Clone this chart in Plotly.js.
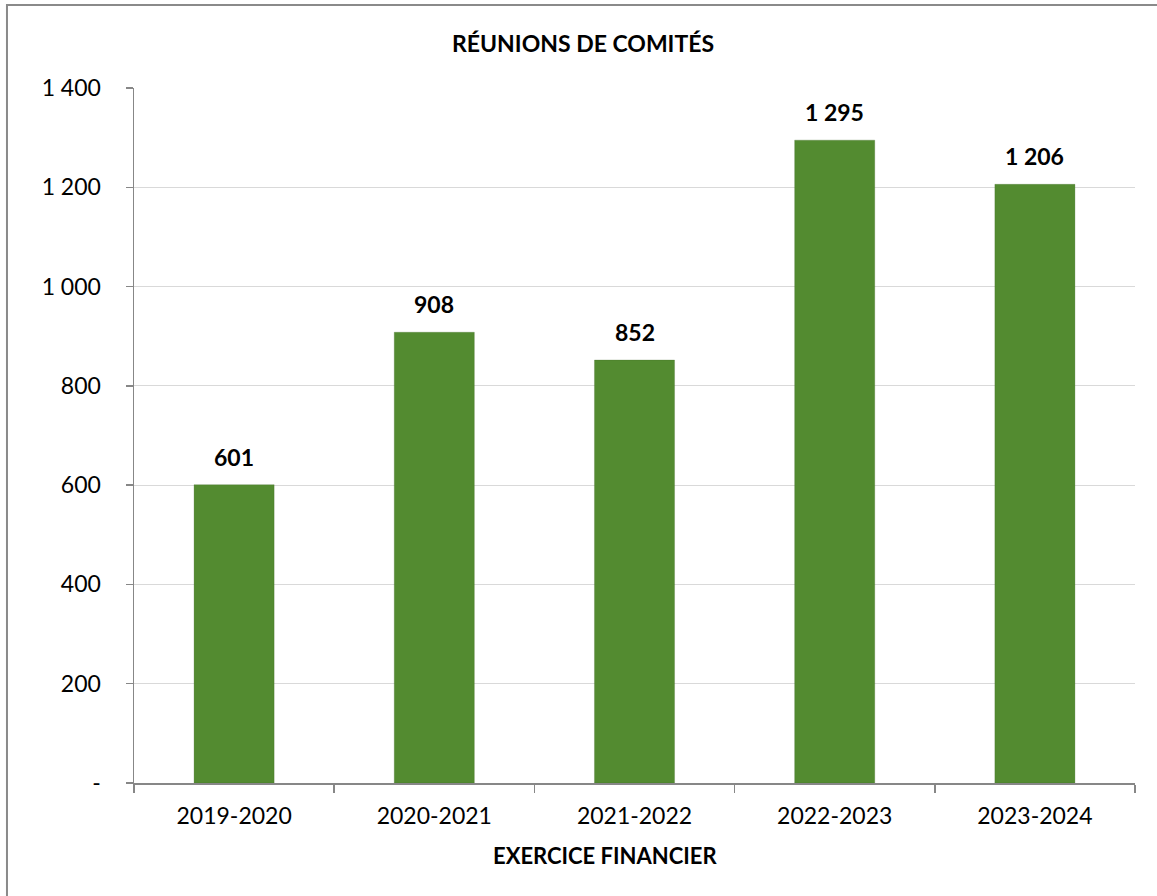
<!DOCTYPE html>
<html>
<head>
<meta charset="utf-8">
<script src="https://cdn.plot.ly/plotly-3.0.1.min.js"></script>
<style>
  html, body { margin: 0; padding: 0; background: #ffffff; }
  #chart { width: 1157px; height: 896px; }
</style>
</head>
<body>
<div id="chart"></div>
<script>
// Data
const categories = ["2019-2020", "2020-2021", "2021-2022", "2022-2023", "2023-2024"];
const meetings = [601, 908, 852, 1295, 1206];
const meetingLabels = ["601", "908", "852", "1 295", "1 206"];
const yTickValues = [0, 200, 400, 600, 800, 1000, 1200, 1400];
const yTickLabels = ["-", "200", "400", "600", "800", "1 000", "1 200", "1 400"];
const chartTitle = "RÉUNIONS DE COMITÉS";
const xAxisTitle = "EXERCICE FINANCIER";

const FONT = "Lato, 'Open Sans', 'Liberation Sans', sans-serif";

const trace = {
  type: "bar",
  x: categories,
  y: meetings,
  marker: { color: "#538B30", line: { color: "rgba(60,100,35,0.25)", width: 1 } },
  hoverinfo: "skip"
};

const valueAnnotations = categories.map((c, i) => ({
  x: c, y: meetings[i], xref: "x", yref: "y",
  text: "<b>" + meetingLabels[i] + "</b>",
  showarrow: false, yanchor: "middle", yshift: 28,
  font: { family: FONT, size: 23, color: "#000000" }
}));

const layout = {
  width: 1157,
  height: 896,
  margin: { l: 134, r: 22, t: 88, b: 113, pad: 0 },
  paper_bgcolor: "#ffffff",
  plot_bgcolor: "#ffffff",
  showlegend: false,
  bargap: 0.6,
  font: { family: FONT, size: 23, color: "#000000" },
  xaxis: {
    type: "category",
    showline: true, linecolor: "#878787", linewidth: 1.5,
    ticks: "outside", tickson: "boundaries", ticklen: 8, tickcolor: "#878787", tickwidth: 1.5,
    ticklabelstandoff: 12,
    showgrid: false,
    tickfont: { family: FONT, size: 23, color: "#000000" }
  },
  yaxis: {
    range: [0, 1400],
    tickmode: "array", tickvals: yTickValues, ticktext: yTickLabels,
    showline: true, linecolor: "#878787", linewidth: 1.5,
    ticks: "outside", ticklen: 7, tickcolor: "#878787", tickwidth: 1.5,
    ticklabelstandoff: 20,
    showgrid: true, gridcolor: "#d9d9d9", gridwidth: 1.2,
    zeroline: false,
    tickfont: { family: FONT, size: 23, color: "#000000" }
  },
  annotations: valueAnnotations.concat([
    {
      xref: "paper", yref: "paper", x: 0.4486, y: 1.0647,
      xanchor: "center", yanchor: "middle", showarrow: false,
      text: "<b>" + chartTitle + "</b>",
      font: { family: FONT, size: 23, color: "#000000" }
    },
    {
      xref: "paper", yref: "paper", x: 0.4705, y: -0.1036,
      xanchor: "center", yanchor: "middle", showarrow: false,
      text: "<b>" + xAxisTitle + "</b>",
      font: { family: FONT, size: 22, color: "#000000" }
    }
  ]),
  shapes: [
    {
      type: "rect", xref: "paper", yref: "paper",
      x0: -0.1269, x1: 1.2, y0: -0.3, y1: 1.1194,
      line: { color: "#8a8a8a", width: 2 }, fillcolor: "rgba(0,0,0,0)", layer: "below"
    }
  ]
};

Plotly.newPlot("chart", [trace], layout, { displayModeBar: false, staticPlot: true });
</script>
</body>
</html>
